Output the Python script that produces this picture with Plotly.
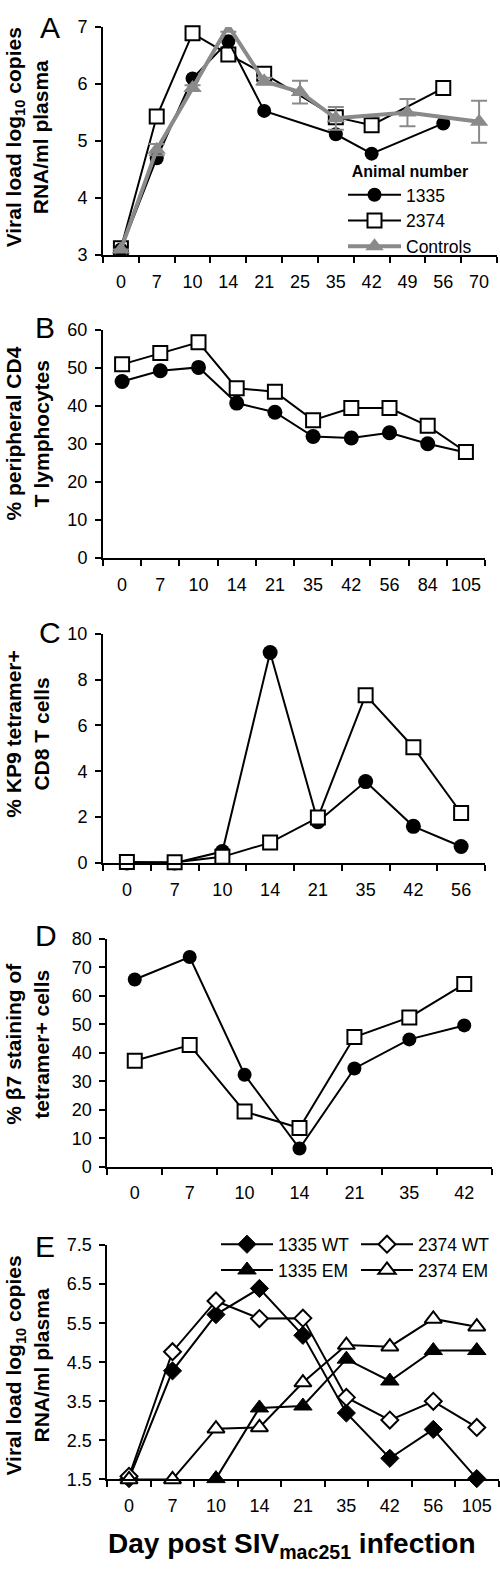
import plotly.graph_objects as go

FONT = "Liberation Sans, Arial, sans-serif"
W, H = 500, 1575

# ---------------- data ----------------
# Panel A: viral load (log10 copies RNA/ml plasma)
days_a = ["0", "7", "10", "14", "21", "25", "35", "42", "49", "56", "70"]
a_1335 = [3.1, 4.7, 6.1, 6.75, 5.53, None, 5.12, 4.78, None, 5.31, None]
a_2374 = [3.12, 5.43, 6.89, 6.52, 6.18, None, 5.42, 5.28, None, 5.93, None]
a_ctrl = [3.1, 4.85, 5.93, 7.02, 6.05, 5.86, 5.4, None, 5.5, None, 5.34]
a_ctrl_err = [0.0, 0.1, 0.05, 0.1, 0.06, 0.2, 0.2, None, 0.24, None, 0.37]

# Panel B: % peripheral CD4 T lymphocytes
days_b = ["0", "7", "10", "14", "21", "35", "42", "56", "84", "105"]
b_1335 = [46.5, 49.3, 50.2, 40.8, 38.4, 32.0, 31.6, 33.0, 30.1, 27.8]
b_2374 = [51.0, 54.0, 56.8, 44.7, 43.8, 36.3, 39.5, 39.5, 34.8, 27.9]

# Panel C: % KP9 tetramer+ CD8 T cells
days_c = ["0", "7", "10", "14", "21", "35", "42", "56"]
c_1335 = [0.0, 0.0, 0.5, 9.18, 1.8, 3.55, 1.6, 0.72]
c_2374 = [0.05, 0.03, 0.27, 0.89, 1.98, 7.32, 5.05, 2.18]

# Panel D: % beta7 staining of tetramer+ cells
days_d = ["0", "7", "10", "14", "21", "35", "42"]
d_1335 = [65.7, 73.6, 32.3, 6.4, 34.5, 44.7, 49.6]
d_2374 = [37.2, 42.7, 19.4, 13.6, 45.5, 52.4, 64.1]

# Panel E: viral load WT / EM
days_e = ["0", "7", "10", "14", "21", "35", "42", "56", "105"]
e_1335_wt = [1.52, 4.28, 5.72, 6.39, 5.19, 3.2, 2.04, 2.78, 1.52]
e_2374_wt = [1.58, 4.77, 6.07, 5.62, 5.63, 3.6, 3.02, 3.5, 2.83]
e_1335_em = [None, None, 1.52, 3.33, 3.38, 4.58, 4.02, 4.8, 4.8]
e_2374_em = [1.5, 1.5, 2.8, 2.83, 3.98, 4.94, 4.9, 5.61, 5.41]

e_yticks = [1.5, 2.5, 3.5, 4.5, 5.5, 6.5, 7.5]

# ---------------- helpers ----------------
def xd(a, b):
    return [a / W, b / W]

def yd(top, bottom):
    return [1 - bottom / H, 1 - top / H]

BLACK = "black"
GRAY = "#8a8a8a"

def circ(size=14):
    return dict(symbol="circle", size=size, color=BLACK, line=dict(color=BLACK, width=0))

def sq(size=13):
    return dict(symbol="square", size=size, color="white", line=dict(color=BLACK, width=2))

line_blk = dict(color=BLACK, width=2)

fig = go.Figure()

# Panel A
fig.add_trace(go.Scatter(x=days_a, y=a_2374, name="2374", mode="lines+markers",
                         line=line_blk, marker=sq(14), connectgaps=True, cliponaxis=False,
                         xaxis="x", yaxis="y", legend="legend", legendrank=2))
fig.add_trace(go.Scatter(x=days_a, y=a_1335, name="1335", mode="lines+markers",
                         line=line_blk, marker=circ(14), connectgaps=True, cliponaxis=False,
                         xaxis="x", yaxis="y", legend="legend", legendrank=1))
fig.add_trace(go.Scatter(x=days_a, y=a_ctrl, name="Controls", mode="lines+markers",
                         line=dict(color=GRAY, width=4),
                         marker=dict(symbol="triangle-up", size=16, color=GRAY),
                         error_y=dict(type="data", array=a_ctrl_err, visible=True,
                                      color=GRAY, thickness=2, width=8),
                         connectgaps=True, cliponaxis=False,
                         xaxis="x", yaxis="y", legend="legend", legendrank=3))

# Panel B
fig.add_trace(go.Scatter(x=days_b, y=b_1335, mode="lines+markers", line=line_blk,
                         marker=circ(15), cliponaxis=False, showlegend=False,
                         xaxis="x2", yaxis="y2"))
fig.add_trace(go.Scatter(x=days_b, y=b_2374, mode="lines+markers", line=line_blk,
                         marker=sq(14), cliponaxis=False, showlegend=False,
                         xaxis="x2", yaxis="y2"))

# Panel C
fig.add_trace(go.Scatter(x=days_c, y=c_1335, mode="lines+markers", line=line_blk,
                         marker=circ(15), cliponaxis=False, showlegend=False,
                         xaxis="x3", yaxis="y3"))
fig.add_trace(go.Scatter(x=days_c, y=c_2374, mode="lines+markers", line=line_blk,
                         marker=sq(14), cliponaxis=False, showlegend=False,
                         xaxis="x3", yaxis="y3"))

# Panel D
fig.add_trace(go.Scatter(x=days_d, y=d_1335, mode="lines+markers", line=line_blk,
                         marker=circ(14), cliponaxis=False, showlegend=False,
                         xaxis="x4", yaxis="y4"))
fig.add_trace(go.Scatter(x=days_d, y=d_2374, mode="lines+markers", line=line_blk,
                         marker=sq(14), cliponaxis=False, showlegend=False,
                         xaxis="x4", yaxis="y4"))

# Panel E
fig.add_trace(go.Scatter(x=days_e, y=e_1335_wt, name="1335 WT", mode="lines+markers",
                         line=line_blk,
                         marker=dict(symbol="diamond", size=14, color=BLACK, line=dict(color=BLACK, width=1)),
                         connectgaps=True, cliponaxis=False, xaxis="x5", yaxis="y5", legend="legend2"))
fig.add_trace(go.Scatter(x=days_e, y=e_2374_wt, name="2374 WT", mode="lines+markers",
                         line=line_blk,
                         marker=dict(symbol="diamond", size=13, color="white", line=dict(color=BLACK, width=2)),
                         connectgaps=True, cliponaxis=False, xaxis="x5", yaxis="y5", legend="legend3"))
fig.add_trace(go.Scatter(x=days_e, y=e_1335_em, name="1335 EM", mode="lines+markers",
                         line=line_blk,
                         marker=dict(symbol="triangle-up", size=16, color=BLACK, line=dict(color=BLACK, width=1)),
                         connectgaps=True, cliponaxis=False, xaxis="x5", yaxis="y5", legend="legend2"))
fig.add_trace(go.Scatter(x=days_e, y=e_2374_em, name="2374 EM", mode="lines+markers",
                         line=line_blk,
                         marker=dict(symbol="triangle-up", size=15, color="white", line=dict(color=BLACK, width=2)),
                         connectgaps=True, cliponaxis=False, xaxis="x5", yaxis="y5", legend="legend3"))

# ---------------- axes ----------------
tickfont = dict(family=FONT, size=18, color=BLACK)

def xax(cats, dom, anchor):
    return dict(type="category", categoryorder="array", categoryarray=cats,
                range=[-0.5, len(cats) - 0.5], domain=dom, anchor=anchor,
                tickson="boundaries", ticks="outside", ticklen=6, tickwidth=2,
                tickcolor=BLACK, showline=True, linecolor=BLACK, linewidth=2,
                showgrid=False, zeroline=False, tickfont=tickfont, tickangle=0,
                ticklabelstandoff=9, fixedrange=True)

def yax(rng, dom, anchor, dtick=None, tickvals=None, ticktext=None):
    d = dict(range=rng, domain=dom, anchor=anchor, ticks="outside", ticklen=6,
             tickwidth=2, tickcolor=BLACK, showline=True, linecolor=BLACK,
             linewidth=2, showgrid=False, zeroline=False, tickfont=tickfont,
             ticklabelstandoff=4, fixedrange=True)
    if dtick is not None:
        d["dtick"] = dtick
        d["tick0"] = rng[0]
    if tickvals is not None:
        d["tickmode"] = "array"
        d["tickvals"] = tickvals
        d["ticktext"] = ticktext
    return d

layout_axes = dict(
    xaxis=xax(days_a, xd(103, 497), "y"),
    yaxis=yax([3, 7], yd(17.3, 248.3), "x", dtick=1),
    xaxis2=xax(days_b, xd(103, 485), "y2"),
    yaxis2=yax([0, 60], yd(324.3, 555), "x2", dtick=10),
    xaxis3=xax(days_c, xd(103, 485), "y3"),
    yaxis3=yax([0, 10], yd(631.7, 864), "x3", dtick=2),
    xaxis4=xax(days_d, xd(107.3, 491.7), "y4"),
    yaxis4=yax([0, 80], yd(940.7, 1171.7), "x4", dtick=10),
    xaxis5=xax(days_e, xd(107.3, 498.5), "y5"),
    yaxis5=yax([1.5, 7.5], yd(1251, 1488.3), "x5",
               tickvals=e_yticks, ticktext=[f"{v:.1f}" for v in e_yticks]),
)

# ---------------- annotations ----------------
ann = []
ytitle_font = dict(family=FONT, size=21, color=BLACK)
ytitles = [
    ("<b>Viral load log<sub>10</sub> copies<br>RNA/ml plasma</b>", 129),
    ("<b>% peripheral CD4<br>T lymphocytes</b>", 429),
    ("<b>% KP9 tetramer+<br>CD8 T cells</b>", 733),
    ("<b>% β7 staining of<br>tetramer+ cells</b>", 1047),
    ("<b>Viral load log<sub>10</sub> copies<br>RNA/ml plasma</b>", 1373),
]
for txt, yc in ytitles:
    ann.append(dict(text=txt, x=27 / W, y=1 - yc / H, xref="paper", yref="paper",
                    xanchor="center", yanchor="middle", textangle=-90,
                    showarrow=False, font=ytitle_font))

letters = [("A", 50, 18), ("B", 45, 322), ("C", 50, 630), ("D", 46, 937), ("E", 45, 1252)]
for t, xc, yc in letters:
    ann.append(dict(text=t, x=xc / W, y=1 - yc / H, xref="paper", yref="paper",
                    xanchor="center", yanchor="middle", showarrow=False,
                    font=dict(family=FONT, size=30, color=BLACK)))

ann.append(dict(text="<b>Day post SIV<sub>mac251</sub> infection</b>", x=292 / W, y=1 - 1555 / H,
                xref="paper", yref="paper", xanchor="center", yanchor="middle",
                showarrow=False, font=dict(family=FONT, size=28, color=BLACK)))

fig.update_layout(
    width=W, height=H, margin=dict(l=0, r=0, t=0, b=0),
    paper_bgcolor="white", plot_bgcolor="white",
    font=dict(family=FONT, color=BLACK),
    annotations=ann,
    legend=dict(x=343 / W, y=1 - 148 / H, xanchor="left", yanchor="top",
                bgcolor="rgba(0,0,0,0)", font=dict(family=FONT, size=17.5, color=BLACK),
                itemwidth=53,
                title=dict(text="<b>Animal number</b>", side="top center",
                           font=dict(family=FONT, size=16, color=BLACK)),
                tracegroupgap=0),
    legend2=dict(x=216 / W, y=1 - 1232 / H, xanchor="left", yanchor="top",
                 bgcolor="rgba(0,0,0,0)", font=dict(family=FONT, size=17.5, color=BLACK),
                 itemwidth=52),
    legend3=dict(x=356 / W, y=1 - 1232 / H, xanchor="left", yanchor="top",
                 bgcolor="rgba(0,0,0,0)", font=dict(family=FONT, size=17.5, color=BLACK),
                 itemwidth=52),
    **layout_axes,
)

fig.write_html("out.html", config={"displayModeBar": False},
               post_script="document.body.style.margin='0px';document.body.style.overflow='hidden';")
